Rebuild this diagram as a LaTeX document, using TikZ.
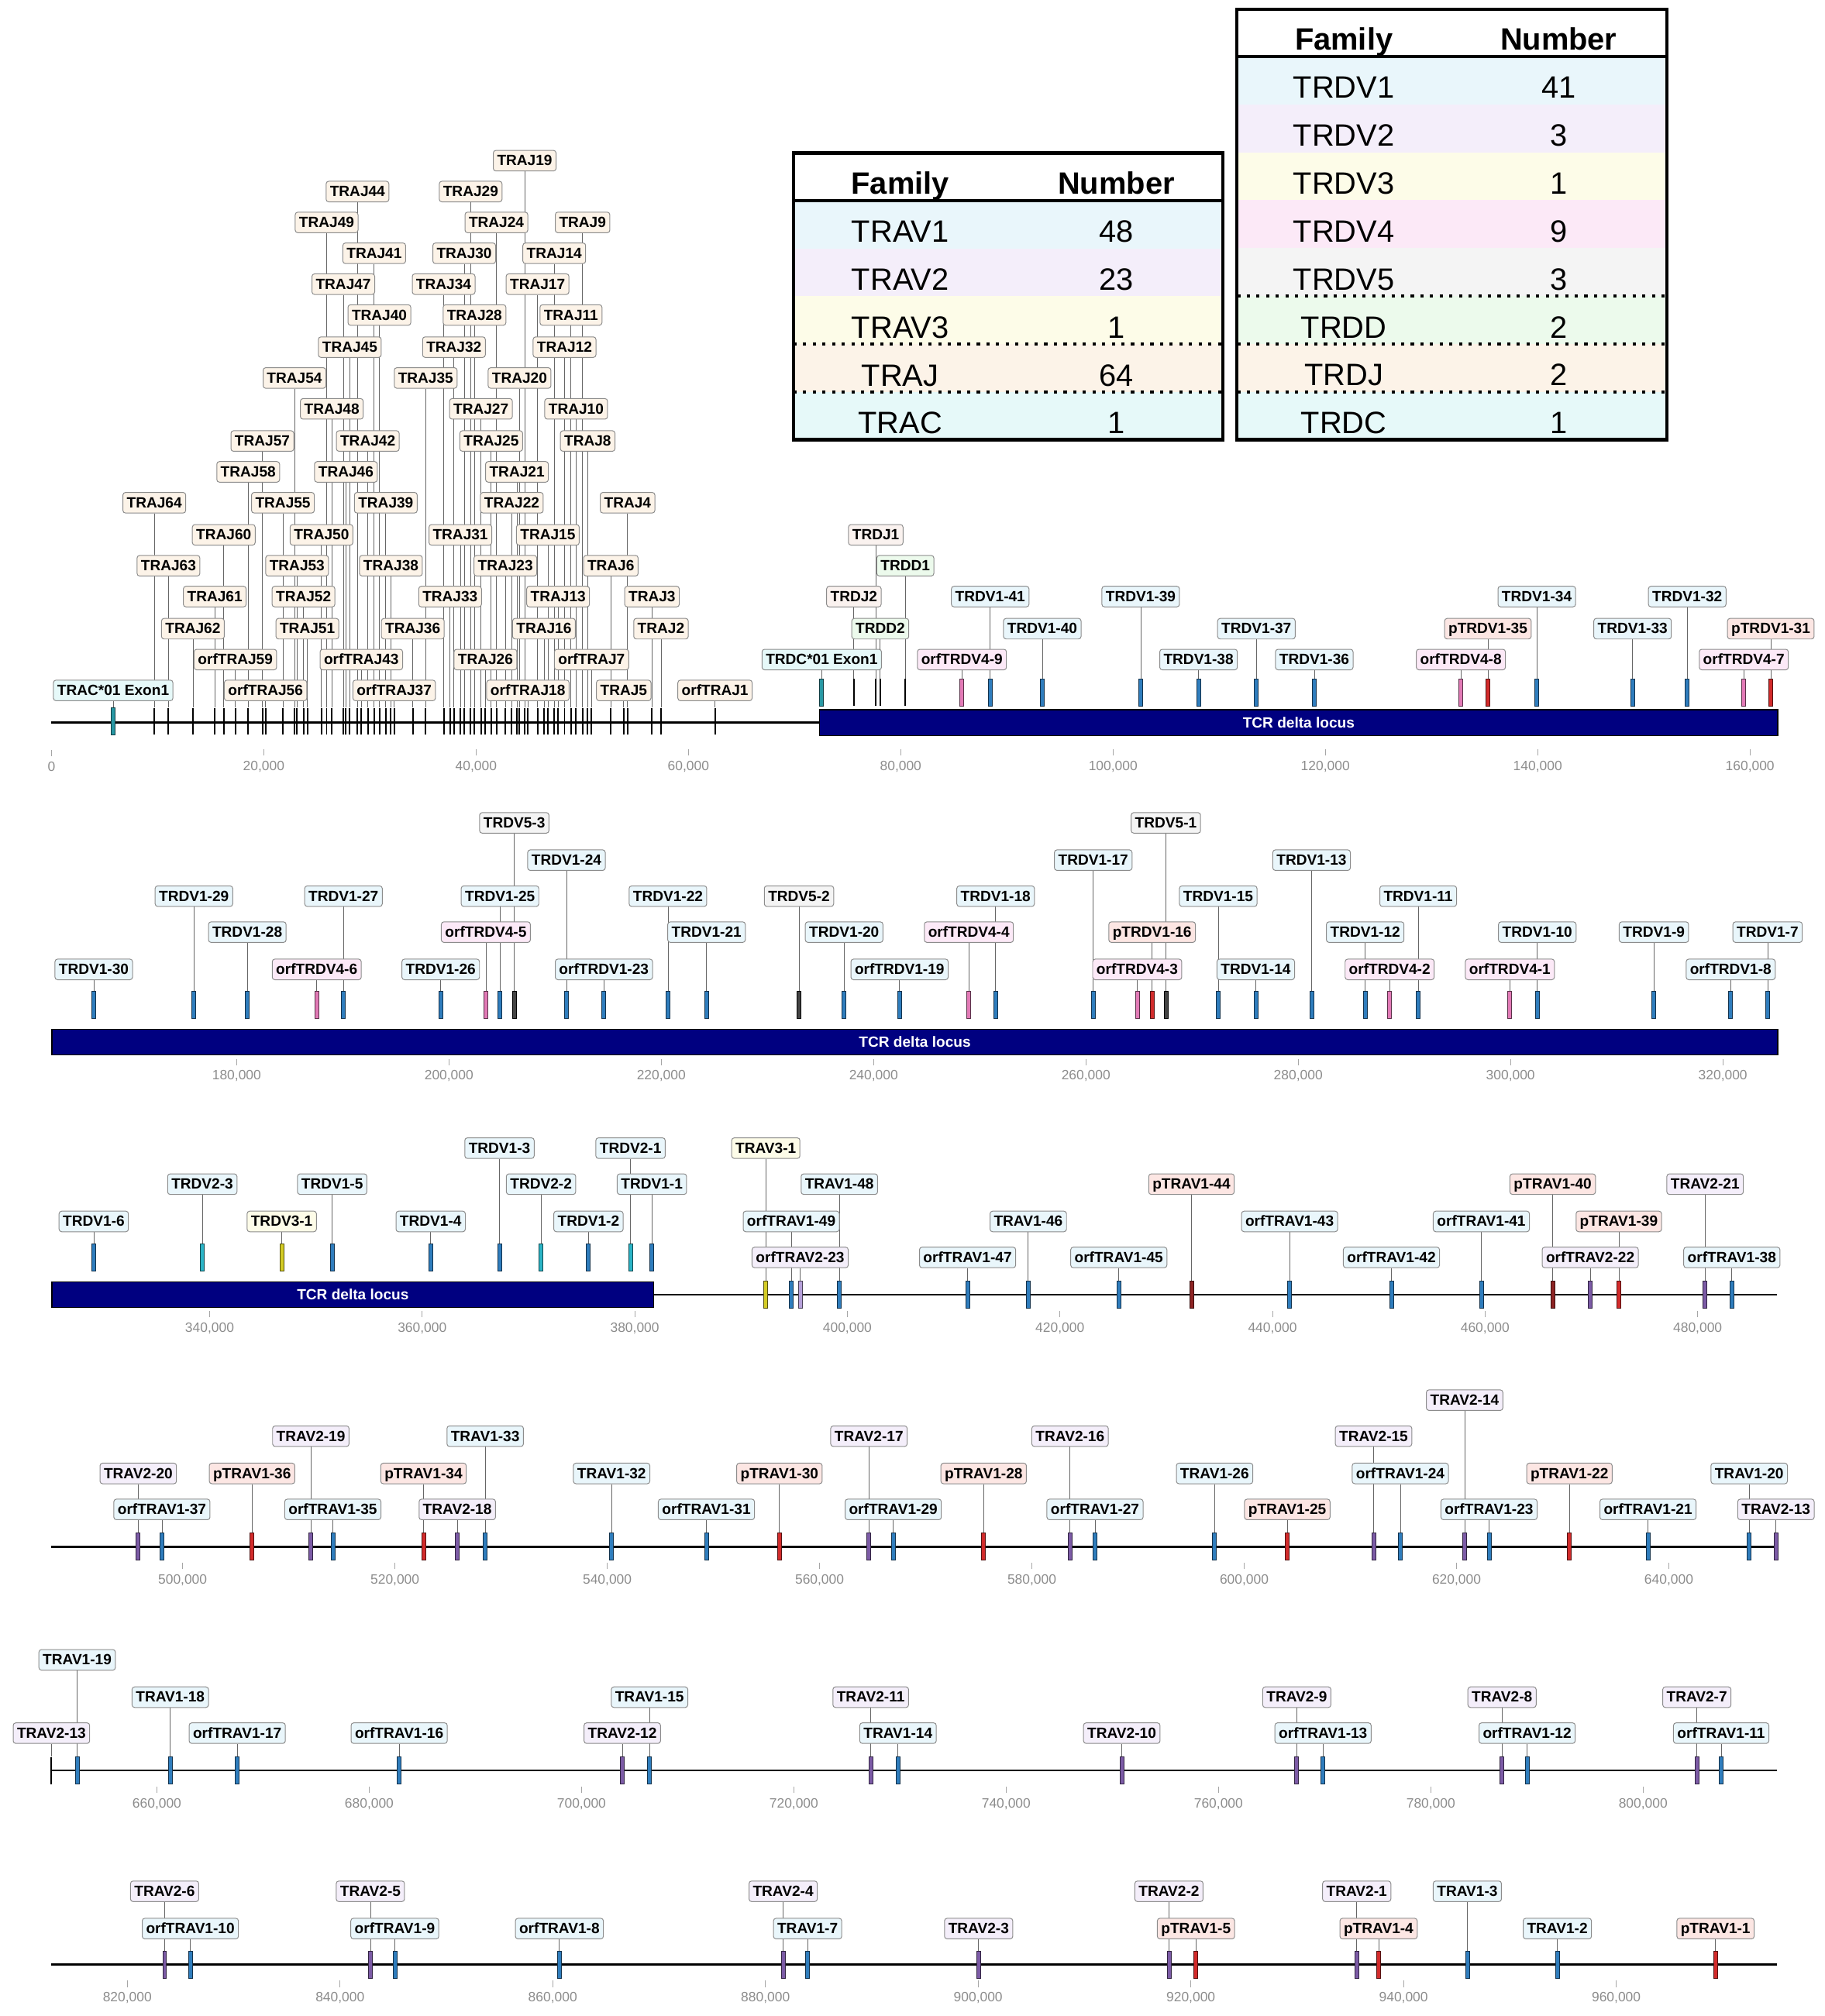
\documentclass[tikz,border=0pt]{standalone}
\usepackage{fontspec}
\setmainfont{Liberation Sans}
\pgfdeclarelayer{bg}
\pgfsetlayers{bg,main}
\definecolor{lblue}{HTML}{E9F6FB}
\definecolor{llav}{HTML}{F4EEFA}
\definecolor{lyel}{HTML}{FDFCE8}
\definecolor{lpink}{HTML}{FCE9F7}
\definecolor{lgrey}{HTML}{F4F4F4}
\definecolor{lgreen}{HTML}{ECFAEC}
\definecolor{lpeach}{HTML}{FCF3E8}
\definecolor{lcyan}{HTML}{E6F9F9}
\definecolor{lsalmon}{HTML}{FCE6E3}
\definecolor{ldj}{HTML}{FAF2EF}
\definecolor{gblue}{HTML}{2F7DBD}
\definecolor{gred}{HTML}{D22B2B}
\definecolor{gdred}{HTML}{8E2424}
\definecolor{gpink}{HTML}{E27AB6}
\definecolor{gcyan}{HTML}{2BB4C6}
\definecolor{gyel}{HTML}{D4CC25}
\definecolor{gpurp}{HTML}{7C5BA6}
\definecolor{glav}{HTML}{B6A0DA}
\definecolor{gteal}{HTML}{2898A4}
\definecolor{gdark}{HTML}{444444}
\definecolor{locus}{HTML}{000080}
\begin{document}
\begin{tikzpicture}
    [x=1pt,y=-1pt,
    lab/.style={draw=black!45, rounded corners=2pt, line width=0.6pt,
      inner xsep=3pt, inner ysep=0pt, minimum height=16pt,
      text height=8.3pt, text depth=0.5pt,
      font=\bfseries\fontsize{11.5}{12}\selectfont},
    labJ/.style={lab, fill=lpeach},
    labC/.style={lab, fill=lcyan},
    labDJ/.style={lab, fill=ldj},
    labDD/.style={lab, fill=lgreen},
    labV1/.style={lab, fill=lblue},
    labV2/.style={lab, fill=lblue},
    labV3/.style={lab, fill=lyel},
    labV4/.style={lab, fill=lpink},
    labV5/.style={lab, fill=lgrey},
    labA2/.style={lab, fill=llav},
    labP/.style={lab, fill=lsalmon},
    gbar/.style={minimum width=3pt, minimum height=21pt, inner sep=0pt, line width=0.5pt},
    barJ/.style={gbar, minimum width=1.2pt, fill=black, draw=none},
    barC/.style={gbar, fill=gteal, draw=gteal!40!black},
    barV1/.style={gbar, fill=gblue, draw=gblue!40!black},
    barV2/.style={gbar, fill=gcyan, draw=gcyan!40!black},
    barV3/.style={gbar, fill=gyel, draw=gyel!40!black},
    barV4/.style={gbar, fill=gpink, draw=gpink!40!black},
    barV5/.style={gbar, fill=gdark, draw=black},
    barA2/.style={gbar, fill=gpurp, draw=gpurp!40!black},
    barA2o/.style={gbar, fill=glav, draw=glav!40!black},
    barP/.style={gbar, fill=gred, draw=gred!40!black},
    barPd/.style={gbar, fill=gdred, draw=gdred!40!black},
    stem/.style={draw=black!60, line width=0.5pt},
    axisline/.style={draw=black, line width=1.5pt},
    locusbar/.style={fill=locus, draw=black, line width=0.8pt, minimum height=20pt,
      inner sep=0pt, text=white, font=\bfseries\fontsize{11.5}{12}\selectfont},
    scalelab/.style={inner sep=1pt, text=black!45, font=\fontsize{10.5}{12}\selectfont},
    scaletick/.style={draw=black!35, line width=0.6pt},
    tabcell/.style={anchor=base, inner sep=0pt, font=\fontsize{24}{28}\selectfont},
    tabhead/.style={tabcell, font=\bfseries\fontsize{24}{28}\selectfont},
    tabframe/.style={draw=black, line width=2.5pt},
    tabdots/.style={draw=black, line width=2.5pt, dash pattern=on 2.5pt off 5pt}]
    \useasboundingbox (0,0) rectangle (1419,1568);

    % tables
    \foreach \f/\v/\c [count=\r from 0] in {TRAV1/48/lblue, TRAV2/23/llav,
      TRAV3/1/lyel, TRAJ/64/lpeach, TRAC/1/lcyan} {
      \fill[\c] (617,156+37.2*\r) rectangle (951,193.2+37.2*\r);
      \node[tabcell] (tf\r) at (700,188.5+37.2*\r) {\f};
      \node[tabcell] (tv\r) at (868,188.5+37.2*\r) {\v};
    }
    \node[tabhead] (tfh) at (700,151) {Family};
    \node[tabhead] (tvh) at (868,151) {Number};
    \draw[tabframe] (617,119) rectangle (951,342);
    \draw[tabframe] (617,156) -- (951,156);
    \draw[tabdots] (617,267.6) -- (951,267.6);
    \draw[tabdots] (617,304.8) -- (951,304.8);

    \foreach \f/\v/\c [count=\r from 0] in {TRDV1/41/lblue, TRDV2/3/llav,
      TRDV3/1/lyel, TRDV4/9/lpink, TRDV5/3/lgrey, TRDD/2/lgreen,
      TRDJ/2/lpeach, TRDC/1/lcyan} {
      \fill[\c] (962,44+37.25*\r) rectangle (1296,81.25+37.25*\r);
      \node[tabcell] (uf\r) at (1045,76.5+37.25*\r) {\f};
      \node[tabcell] (uv\r) at (1212,76.5+37.25*\r) {\v};
    }
    \node[tabhead] (ufh) at (1045,39) {Family};
    \node[tabhead] (uvh) at (1212,39) {Number};
    \draw[tabframe] (962,7) rectangle (1296,342);
    \draw[tabframe] (962,44) -- (1296,44);
    \draw[tabdots] (962,230.25) -- (1296,230.25);
    \draw[tabdots] (962,267.5) -- (1296,267.5);
    \draw[tabdots] (962,304.75) -- (1296,304.75);

    % axes and locus bars
    \coordinate (r1a) at (40,562);
    \node[locusbar, minimum width=745pt, anchor=west] (loc1) at (637,562) {TCR delta locus};
    \draw[axisline] (r1a) -- (loc1.west);
    \node[locusbar, minimum width=1342pt, anchor=west] (loc2) at (40,810.5) {TCR delta locus};
    \node[locusbar, minimum width=468pt, anchor=west] (loc3) at (40,1007) {TCR delta locus};
    \coordinate (r3b) at (1382,1007);
    \draw[axisline] (loc3.east) -- (r3b);
    \foreach \yy [count=\r from 4] in {1203,1377,1528} {
      \coordinate (r\r a) at (40,\yy);
      \coordinate (r\r b) at (1382,\yy);
      \draw[axisline] (r\r a) -- (r\r b);
    }

    % scale
    \foreach \s [count=\k from 0] in {0,{20,000},{40,000},{60,000},{80,000},
      {100,000},{120,000},{140,000},{160,000}} {
      \node[scalelab] (sa\k) at (40+165.1*\k,596) {\s};
      \draw[scaletick] ([yshift=3pt]sa\k.north) -- ([yshift=8pt]sa\k.north);
    }
    \foreach \s [count=\k from 0] in {{180,000},{200,000},{220,000},{240,000},
      {260,000},{280,000},{300,000},{320,000}} {
      \node[scalelab] (sb\k) at (184+165.1*\k,837) {\s};
      \draw[scaletick] ([yshift=3pt]sb\k.north) -- ([yshift=8pt]sb\k.north);
    }
    \foreach \s [count=\k from 0] in {{340,000},{360,000},{380,000},{400,000},
      {420,000},{440,000},{460,000},{480,000}} {
      \node[scalelab] (sc\k) at (163+165.3*\k,1033) {\s};
      \draw[scaletick] ([yshift=3pt]sc\k.north) -- ([yshift=8pt]sc\k.north);
    }
    \foreach \s [count=\k from 0] in {{500,000},{520,000},{540,000},{560,000},
      {580,000},{600,000},{620,000},{640,000}} {
      \node[scalelab] (sd\k) at (142+165.1*\k,1229) {\s};
      \draw[scaletick] ([yshift=3pt]sd\k.north) -- ([yshift=8pt]sd\k.north);
    }
    \foreach \s [count=\k from 0] in {{660,000},{680,000},{700,000},{720,000},
      {740,000},{760,000},{780,000},{800,000}} {
      \node[scalelab] (se\k) at (122+165.1*\k,1403) {\s};
      \draw[scaletick] ([yshift=3pt]se\k.north) -- ([yshift=8pt]se\k.north);
    }
    \foreach \s [count=\k from 0] in {{820,000},{840,000},{860,000},{880,000},
      {900,000},{920,000},{940,000},{960,000}} {
      \node[scalelab] (sf\k) at (99+165.4*\k,1554) {\s};
      \draw[scaletick] ([yshift=3pt]sf\k.north) -- ([yshift=8pt]sf\k.north);
    }

    % TRAJ cluster
    \node[barC] (act) at (88,561) {};
    \node[labC] (acg) at (88,537) {TRAC*01 Exon1};
    \begin{pgfonlayer}{bg}
      \draw[stem] (act.north) -- (act.north |- acg.south);
    \end{pgfonlayer}
    \foreach \x/\y/\t [count=\n] in {408/125/TRAJ19, 278/149/TRAJ44, 366/149/TRAJ29,
      254/173/TRAJ49, 386/173/TRAJ24, 453/173/TRAJ9, 291/197/TRAJ41, 361/197/TRAJ30,
      431/197/TRAJ14, 267/221/TRAJ47, 345/221/TRAJ34, 418/221/TRAJ17, 295/245/TRAJ40,
      369/245/TRAJ28, 444/245/TRAJ11, 272/270/TRAJ45, 353/270/TRAJ32, 439/270/TRAJ12,
      229/294/TRAJ54, 331/294/TRAJ35, 404/294/TRAJ20, 258/318/TRAJ48, 374/318/TRAJ27,
      448/318/TRAJ10, 204/343/TRAJ57, 286/343/TRAJ42, 382/343/TRAJ25, 457/343/TRAJ8,
      193/367/TRAJ58, 269/367/TRAJ46, 402/367/TRAJ21, 120/391/TRAJ64, 220/391/TRAJ55,
      300/391/TRAJ39, 398/391/TRAJ22, 488/391/TRAJ4, 174/416/TRAJ60, 250/416/TRAJ50,
      358/416/TRAJ31, 426/416/TRAJ15, 131/440/TRAJ63, 231/440/TRAJ53, 304/440/TRAJ38,
      393/440/TRAJ23, 475/440/TRAJ6, 167/464/TRAJ61, 236/464/TRAJ52, 350/464/TRAJ33,
      434/464/TRAJ13, 507/464/TRAJ3, 150/489/TRAJ62, 239/489/TRAJ51, 321/489/TRAJ36,
      423/489/TRAJ16, 514/489/TRAJ2, 183/513/orfTRAJ59, 281/513/orfTRAJ43,
      377.5/513/TRAJ26, 460/513/orfTRAJ7, 206.5/537/orfTRAJ56, 306.5/537/orfTRAJ37,
      410.5/537/orfTRAJ18, 485/537/TRAJ5, 556/537/orfTRAJ1} {
      \node[barJ] (jt\n) at (\x,561) {};
      \node[labJ] (jg\n) at (\x,\y) {\t};
      \begin{pgfonlayer}{bg}
        \draw[stem] (jt\n.north) -- (jt\n.north |- jg\n.south);
      \end{pgfonlayer}
    }

    % delta locus, row 1
    \foreach \x/\y/\t/\lk/\bk [count=\n] in {639/513/TRDC*01 Exon1/labC/barC,
      664/464/TRDJ2/labDJ/barJ, 681/416/TRDJ1/labDJ/barJ, 684.5/489/TRDD2/labDD/barJ,
      704/440/TRDD1/labDD/barJ, 748/513/orfTRDV4-9/labV4/barV4,
      770/464/TRDV1-41/labV1/barV1, 810.5/489/TRDV1-40/labV1/barV1,
      887/464/TRDV1-39/labV1/barV1, 932/513/TRDV1-38/labV1/barV1,
      977/489/TRDV1-37/labV1/barV1, 1022/513/TRDV1-36/labV1/barV1,
      1136/513/orfTRDV4-8/labV4/barV4, 1157/489/pTRDV1-35/labP/barP,
      1195/464/TRDV1-34/labV1/barV1, 1269.5/489/TRDV1-33/labV1/barV1,
      1312/464/TRDV1-32/labV1/barV1, 1356/513/orfTRDV4-7/labV4/barV4,
      1377/489/pTRDV1-31/labP/barP} {
      \node[\bk] (at\n) at (\x,538.5) {};
      \node[\lk] (ag\n) at (\x,\y) {\t};
      \begin{pgfonlayer}{bg}
        \draw[stem] (at\n.north) -- (at\n.north |- ag\n.south);
      \end{pgfonlayer}
    }

    % row 2
    \foreach \x/\y/\t/\lk/\bk [count=\n] in {72.9/754/TRDV1-30/labV1/barV1,
      150.8/697/TRDV1-29/labV1/barV1, 192.3/725/TRDV1-28/labV1/barV1,
      246.3/754/orfTRDV4-6/labV4/barV4, 267.1/697/TRDV1-27/labV1/barV1,
      342.7/754/TRDV1-26/labV1/barV1, 377.8/725/orfTRDV4-5/labV4/barV4,
      388.8/697/TRDV1-25/labV1/barV1, 399.9/640/TRDV5-3/labV5/barV5,
      440.5/669/TRDV1-24/labV1/barV1, 469.6/754/orfTRDV1-23/labV1/barV1,
      519.4/697/TRDV1-22/labV1/barV1, 549.4/725/TRDV1-21/labV1/barV1,
      621.3/697/TRDV5-2/labV5/barV5, 656.4/725/TRDV1-20/labV1/barV1,
      699.5/754/orfTRDV1-19/labV1/barV1, 753.4/725/orfTRDV4-4/labV4/barV4,
      774.2/697/TRDV1-18/labV1/barV1, 850.1/669/TRDV1-17/labV1/barV1,
      884.3/754/orfTRDV4-3/labV4/barV4, 895.9/725/pTRDV1-16/labP/barP,
      906.6/640/TRDV5-1/labV5/barV5, 947.3/697/TRDV1-15/labV1/barV1,
      976.5/754/TRDV1-14/labV1/barV1, 1019.9/669/TRDV1-13/labV1/barV1,
      1061.6/725/TRDV1-12/labV1/barV1, 1080.6/754/orfTRDV4-2/labV4/barV4,
      1102.8/697/TRDV1-11/labV1/barV1, 1174.1/754/orfTRDV4-1/labV4/barV4,
      1195.4/725/TRDV1-10/labV1/barV1, 1286.1/725/TRDV1-9/labV1/barV1,
      1345.8/754/orfTRDV1-8/labV1/barV1, 1374.5/725/TRDV1-7/labV1/barV1} {
      \node[\bk] (bt\n) at (\x,781.5) {};
      \node[\lk] (bg\n) at (\x,\y) {\t};
      \begin{pgfonlayer}{bg}
        \draw[stem] (bt\n.north) -- (bt\n.north |- bg\n.south);
      \end{pgfonlayer}
    }

    % row 3
    \foreach \x/\y/\t/\lk/\bk [count=\n] in {72.9/950/TRDV1-6/labV1/barV1,
      157.3/921/TRDV2-3/labV2/barV2, 219.1/950/TRDV3-1/labV3/barV3,
      258.3/921/TRDV1-5/labV1/barV1, 334.9/950/TRDV1-4/labV1/barV1,
      388.4/893/TRDV1-3/labV1/barV1, 420.7/921/TRDV2-2/labV2/barV2,
      457.6/950/TRDV1-2/labV1/barV1, 490.3/893/TRDV2-1/labV2/barV2,
      506.9/921/TRDV1-1/labV1/barV1} {
      \node[\bk] (ct\n) at (\x,978) {};
      \node[\lk] (cg\n) at (\x,\y) {\t};
      \begin{pgfonlayer}{bg}
        \draw[stem] (ct\n.north) -- (ct\n.north |- cg\n.south);
      \end{pgfonlayer}
    }
    \foreach \x/\y/\t/\lk/\bk [count=\n] in {595.5/893/TRAV3-1/labV3/barV3,
      615.3/950/orfTRAV1-49/labV1/barV1, 622.2/978/orfTRAV2-23/labA2/barA2o,
      652.7/921/TRAV1-48/labV1/barV1, 752.4/978/orfTRAV1-47/labV1/barV1,
      799.6/950/TRAV1-46/labV1/barV1, 870/978/orfTRAV1-45/labV1/barV1,
      926.5/921/pTRAV1-44/labP/barPd, 1002.8/950/orfTRAV1-43/labV1/barV1,
      1082/978/orfTRAV1-42/labV1/barV1, 1151.9/950/orfTRAV1-41/labV1/barV1,
      1207.4/921/pTRAV1-40/labP/barPd, 1236.6/978/orfTRAV2-22/labA2/barA2,
      1258.8/950/pTRAV1-39/labP/barP, 1325.9/921/TRAV2-21/labA2/barA2,
      1346.7/978/orfTRAV1-38/labV1/barV1} {
      \node[\bk] (dt\n) at (\x,1007) {};
      \node[\lk] (dg\n) at (\x,\y) {\t};
      \begin{pgfonlayer}{bg}
        \draw[stem] (dt\n.north) -- (dt\n.north |- dg\n.south);
      \end{pgfonlayer}
    }

    % row 4
    \foreach \x/\y/\t/\lk/\bk [count=\n] in {107.5/1146/TRAV2-20/labA2/barA2,
      125.9/1174/orfTRAV1-37/labV1/barV1, 196/1146/pTRAV1-36/labP/barP,
      241.7/1117/TRAV2-19/labA2/barA2, 258.8/1174/orfTRAV1-35/labV1/barV1,
      329.3/1146/pTRAV1-34/labP/barP, 355.6/1174/TRAV2-18/labA2/barA2,
      377.3/1117/TRAV1-33/labV1/barV1, 475.6/1146/TRAV1-32/labV1/barV1,
      549.3/1174/orfTRAV1-31/labV1/barV1, 606.1/1146/pTRAV1-30/labP/barP,
      675.7/1117/TRAV2-17/labA2/barA2, 694.6/1174/orfTRAV1-29/labV1/barV1,
      764.9/1146/pTRAV1-28/labP/barP, 832.1/1117/TRAV2-16/labA2/barA2,
      851.5/1174/orfTRAV1-27/labV1/barV1, 944.5/1146/TRAV1-26/labV1/barV1,
      1001/1174/pTRAV1-25/labP/barP, 1068.1/1117/TRAV2-15/labA2/barA2,
      1088.9/1146/orfTRAV1-24/labV1/barV1, 1138.9/1089/TRAV2-14/labA2/barA2,
      1157.9/1174/orfTRAV1-23/labV1/barV1, 1220.4/1146/pTRAV1-22/labP/barP,
      1281.5/1174/orfTRAV1-21/labV1/barV1, 1360.2/1146/TRAV1-20/labV1/barV1,
      1381/1174/TRAV2-13/labA2/barA2} {
      \node[\bk] (et\n) at (\x,1203) {};
      \node[\lk] (eg\n) at (\x,\y) {\t};
      \begin{pgfonlayer}{bg}
        \draw[stem] (et\n.north) -- (et\n.north |- eg\n.south);
      \end{pgfonlayer}
    }

    % row 5
    \foreach \x/\y/\t/\lk/\bk [count=\n] in {40/1348/TRAV2-13/labA2/barJ,
      60/1291/TRAV1-19/labV1/barV1, 132.4/1320/TRAV1-18/labV1/barV1,
      184.5/1348/orfTRAV1-17/labV1/barV1, 310.4/1348/orfTRAV1-16/labV1/barV1,
      483.9/1348/TRAV2-12/labA2/barA2, 505.1/1320/TRAV1-15/labV1/barV1,
      677.1/1320/TRAV2-11/labA2/barA2, 698.3/1348/TRAV1-14/labV1/barV1,
      872.3/1348/TRAV2-10/labA2/barA2, 1008.4/1320/TRAV2-9/labA2/barA2,
      1028.8/1348/orfTRAV1-13/labV1/barV1, 1168/1320/TRAV2-8/labA2/barA2,
      1187.5/1348/orfTRAV1-12/labV1/barV1, 1319.5/1320/TRAV2-7/labA2/barA2,
      1338.4/1348/orfTRAV1-11/labV1/barV1} {
      \node[\bk] (ft\n) at (\x,1377) {};
      \node[\lk] (fg\n) at (\x,\y) {\t};
      \begin{pgfonlayer}{bg}
        \draw[stem] (ft\n.north) -- (ft\n.north |- fg\n.south);
      \end{pgfonlayer}
    }

    % row 6
    \foreach \x/\y/\t/\lk/\bk [count=\n] in {128/1471/TRAV2-6/labA2/barA2,
      148/1500/orfTRAV1-10/labV1/barV1, 288/1471/TRAV2-5/labA2/barA2,
      307/1500/orfTRAV1-9/labV1/barV1, 435/1500/orfTRAV1-8/labV1/barV1,
      609/1471/TRAV2-4/labA2/barA2, 628/1500/TRAV1-7/labV1/barV1,
      761/1500/TRAV2-3/labA2/barA2, 909/1471/TRAV2-2/labA2/barA2,
      930/1500/pTRAV1-5/labP/barP, 1055/1471/TRAV2-1/labA2/barA2,
      1072/1500/pTRAV1-4/labP/barP, 1141/1471/TRAV1-3/labV1/barV1,
      1211/1500/TRAV1-2/labV1/barV1, 1334/1500/pTRAV1-1/labP/barP} {
      \node[\bk] (gt\n) at (\x,1528) {};
      \node[\lk] (gg\n) at (\x,\y) {\t};
      \begin{pgfonlayer}{bg}
        \draw[stem] (gt\n.north) -- (gt\n.north |- gg\n.south);
      \end{pgfonlayer}
    }
  \end{tikzpicture}
\end{document}
